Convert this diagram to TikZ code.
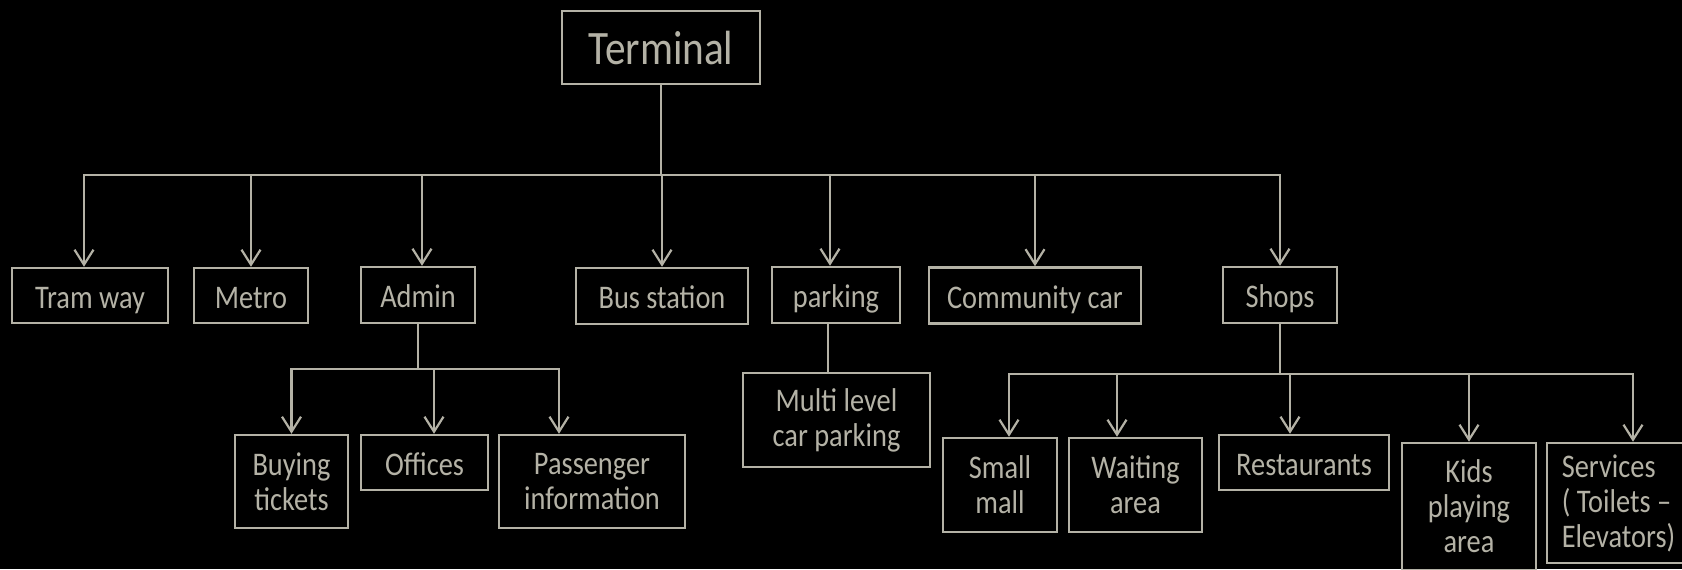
\documentclass[tikz,border=0pt]{standalone}
\usepackage{fontspec}
\setmainfont{Carlito}[FakeStretch=0.86]
\usetikzlibrary{arrows.meta}
\definecolor{ink}{RGB}{180,178,166}
\begin{document}
\begin{tikzpicture}[x=0.5pt,y=-0.5pt,
  ln/.style={draw=ink,line width=1.25pt},
  arr/.style={ln,-{Straight Barb[length=7.5pt,width=9.5pt,line width=1.1pt]}},
  bx/.style 2 args={draw=ink,line width=1.25pt,text=ink,inner sep=0pt,align=center,
    minimum width=#1*0.5pt,minimum height=#2*0.5pt,font=\fontsize{16.5}{17.5}\selectfont},
  one/.style={text height=12.8pt,text depth=0pt}]
\useasboundingbox (0,0) rectangle (1682,569);
\fill[black] (0,0) rectangle (1682,569);

% top
\node[bx={198}{73},font=\fontsize{24}{26}\selectfont,text height=17pt,text depth=0pt] (term) at (661,47.5) {Terminal};

% level 1
\node[bx={156}{55},one] (tram)    at (90,295.5)   {Tram way};
\node[bx={114}{55},one] (metro)   at (251,295.5)  {Metro};
\node[bx={114}{56},one] (admin)   at (418,295)    {Admin};
\node[bx={172}{56},one] (bus)     at (662,296)    {Bus station};
\node[bx={128}{56},one] (parking) at (836,295)    {parking};
\node[bx={212}{56},one] (comm)    at (1035,295.5) {Community car};
\node[bx={114}{56},one] (shops)   at (1280,295)   {Shops};

% level 2
\node[bx={113}{93}]  (buy)   at (291.5,481.5) {Buying\\tickets};
\node[bx={127}{55},one]  (off)   at (424.5,462.5) {Offices};
\node[bx={186}{93}]  (pass)  at (592,481.5)   {Passenger\\information};
\node[bx={187}{94}]  (multi) at (836.5,420)   {Multi level\\car parking};
\node[bx={114}{94}]  (small) at (1000,485)    {Small\\mall};
\node[bx={133}{94}]  (wait)  at (1135.5,485)  {Waiting\\area};
\node[bx={170}{55},one]  (rest)  at (1304,462.5)  {Restaurants};
\node[bx={134}{127}] (kids)  at (1469,506.5)  {Kids\\playing\\area};
\node[bx={143}{120},align=left] (serv) at (1618.5,503) {Services\\( Toilets –\\Elevators)};

% hubs
\coordinate (hub)  at (661,175);
\coordinate (ahub) at (418,369);
\coordinate (shub) at (1280,374);

% Terminal branches
\draw[ln] (term.south) -- (hub);
\draw[arr] (hub) -| ([xshift=-3pt]tram.north);
\draw[arr] (hub) -| (metro.north);
\draw[arr] (hub) -| ([xshift=2pt]admin.north);
\draw[arr] (hub) -| (bus.north);
\draw[arr] (hub) -| ([xshift=-3pt]parking.north);
\draw[arr] (hub) -| (comm.north);
\draw[arr] (hub) -| (shops.north);

% Admin branches
\draw[ln] (admin.south) -- (ahub);
\draw[arr] (ahub) -| (buy.north);
\draw[arr] (ahub) -| ([xshift=4.75pt]off.north);
\draw[arr] (ahub) -| ([xshift=-16.5pt]pass.north);

% parking
\draw[ln] ([xshift=-4pt]parking.south) -- ([xshift=-4pt]parking.south |- multi.north);

% Shops branches
\draw[ln] (shops.south) -- (shub);
\draw[arr] (shub) -| ([xshift=4.5pt]small.north);
\draw[arr] (shub) -| ([xshift=-9.25pt]wait.north);
\draw[arr] (shub) -| ([xshift=-7pt]rest.north);
\draw[arr] (shub) -| (kids.north);
\draw[arr] (shub) -| ([xshift=7.25pt]serv.north);
\end{tikzpicture}
\end{document}
